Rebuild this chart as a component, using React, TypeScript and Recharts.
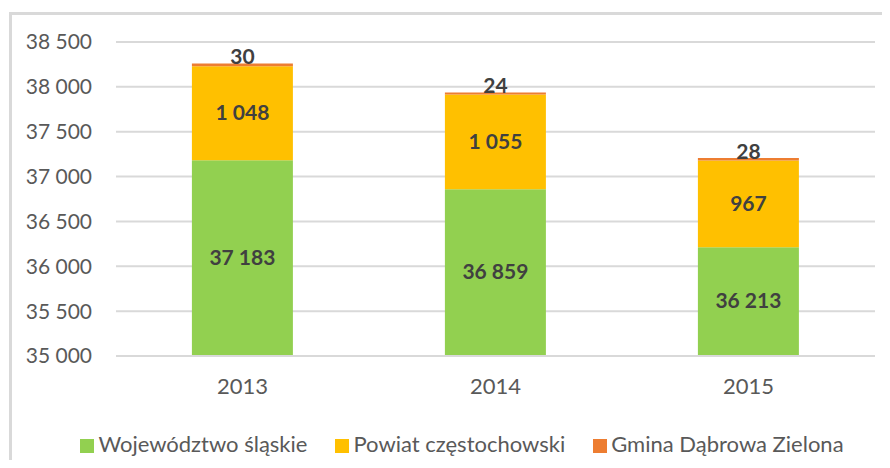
import { BarChart, Bar, XAxis, YAxis, CartesianGrid, Legend, LabelList } from 'recharts';

// Dane z wykresu
const years = ['2013', '2014', '2015'];
const wojewodztwo = [37183, 36859, 36213];
const powiat = [1048, 1055, 967];
const gmina = [30, 24, 28];
const yTicks = [35000, 35500, 36000, 36500, 37000, 37500, 38000, 38500];
const seriesNames = ['Województwo śląskie', 'Powiat częstochowski', 'Gmina Dąbrowa Zielona'];

const data = years.map((year, i) => ({
  year,
  woj: wojewodztwo[i],
  pow: powiat[i],
  gm: gmina[i],
}));

const FONT = 'Lato, "Open Sans", sans-serif';
const PLOT_BOTTOM = 355;

const fmt = (n: number) => n.toString().replace(/\B(?=(\d{3})+(?!\d))/g, ' ');

// etykieta wyśrodkowana w widocznej części słupka
const CenterLabel = (props: any) => {
  const { x, y, width, height, value } = props;
  const bottom = Math.min(y + height, PLOT_BOTTOM);
  const cy = (y + bottom) / 2;
  return (
    <text x={x + width / 2} y={cy} dy={7} textAnchor="middle" fill="#404040" fontSize={21} fontWeight="bold" fontFamily={FONT}>
      {fmt(value)}
    </text>
  );
};

const TopLabel = (props: any) => {
  const { x, y, width, value } = props;
  return (
    <text x={x + width / 2} y={y} dy={1} textAnchor="middle" fill="#404040" fontSize={21} fontWeight="bold" fontFamily={FONT}>
      {fmt(value)}
    </text>
  );
};

const App = () => {
  return (
    <div style={{ margin: -8, position: 'relative', width: 890, height: 468, background: '#fff', overflow: 'hidden' }}>
      <div style={{ position: 'absolute', left: 9, top: 12, width: 900, height: 500, border: '3px solid #d9d9d9' }} />
      <BarChart
        width={890}
        height={468}
        data={data}
        margin={{ top: 42, right: 15, left: 0, bottom: 11 }}
        barCategoryGap="30%"
        style={{ position: 'absolute', left: 0, top: 0 }}
      >
        <CartesianGrid vertical={false} stroke="#d9d9d9" strokeWidth={2} />
        <XAxis
          dataKey="year"
          height={74}
          axisLine={{ stroke: '#d9d9d9', strokeWidth: 2 }}
          tickLine={false}
          tickMargin={16}
          tick={{ fill: '#595959', fontSize: 22, fontFamily: FONT }}
        />
        <YAxis
          width={116}
          domain={[35000, 38500]}
          ticks={yTicks}
          allowDataOverflow
          axisLine={false}
          tickLine={false}
          tickSize={0}
          tickMargin={24}
          tickFormatter={fmt}
          tick={{ fill: '#595959', fontSize: 21, fontFamily: FONT }}
        />
        <Legend
          verticalAlign="bottom"
          iconType="square"
          iconSize={14}
          itemSorter={(item: any) => seriesNames.indexOf(item.value)}
          wrapperStyle={{ fontFamily: FONT, fontSize: 22, paddingLeft: 77, boxSizing: 'border-box' }}
          formatter={(value) => <span style={{ color: '#595959', marginRight: 18 }}>{value}</span>}
        />
        <Bar dataKey="woj" name={seriesNames[0]} stackId="a" fill="#92D050" isAnimationActive={false}>
          <LabelList dataKey="woj" content={CenterLabel} />
        </Bar>
        <Bar dataKey="pow" name={seriesNames[1]} stackId="a" fill="#FFC000" isAnimationActive={false}>
          <LabelList dataKey="pow" content={CenterLabel} />
        </Bar>
        <Bar dataKey="gm" name={seriesNames[2]} stackId="a" fill="#ED7D31" isAnimationActive={false}>
          <LabelList dataKey="gm" content={TopLabel} />
        </Bar>
      </BarChart>
    </div>
  );
};

export default App;
